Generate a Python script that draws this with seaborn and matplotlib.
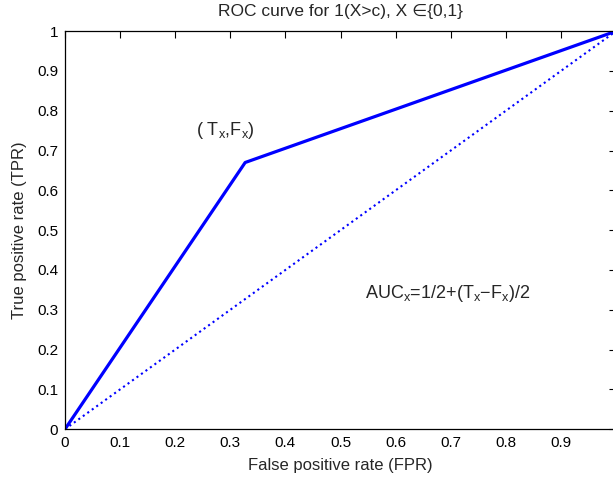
import matplotlib
matplotlib.use("Agg")
import matplotlib.pyplot as plt
import matplotlib.ticker as mticker
import numpy as np
import pandas as pd
import seaborn as sns

# ROC points
fpr = [0.0, 0.327, 1.0]
tpr = [0.0, 0.67, 1.0]
chance_x = [0.0, 1.0]
chance_y = [0.0, 1.0]
ticks = [0, 0.1, 0.2, 0.3, 0.4, 0.5, 0.6, 0.7, 0.8, 0.9, 1]

sns.set_style("white")
plt.rcParams['font.family'] = ['Liberation Sans', 'DejaVu Sans']
plt.rcParams['mathtext.fontset'] = 'custom'
plt.rcParams['mathtext.rm'] = 'Liberation Sans'
plt.rcParams['mathtext.it'] = 'Liberation Sans'

fig = plt.figure(figsize=(6.13, 4.79), dpi=100)
ax = fig.add_axes([0.106, 0.104, 0.899, 0.831])

roc = pd.DataFrame({'fpr': fpr, 'tpr': tpr})
chance = pd.DataFrame({'x': chance_x, 'y': chance_y})

sns.lineplot(data=chance, x='x', y='y', ax=ax, color='blue', linestyle=':',
             linewidth=1.5, sort=False)
sns.lineplot(data=roc, x='fpr', y='tpr', ax=ax, color='blue', linewidth=2.3,
             sort=False)

ax.set_xlim(0, 1)
ax.set_ylim(0, 1)
ax.set_xticks(ticks)
ax.set_yticks(ticks)
fmt = mticker.FormatStrFormatter('%g')
ax.xaxis.set_major_formatter(fmt)
ax.yaxis.set_major_formatter(fmt)
ax.tick_params(direction='in', top=True, right=True, length=5, width=0.8,
               labelsize=11, colors='black', pad=5)
for s in ax.spines.values():
    s.set_color('black')
    s.set_linewidth(0.9)

ax.set_xlabel('False positive rate (FPR)', fontsize=12, labelpad=6)
ax.set_ylabel('True positive rate (TPR)', fontsize=12, labelpad=7)
ax.set_title('ROC curve for 1(X>c), X \u2208{0,1}', fontsize=12.5, pad=11)

ax.text(0.237, 0.74, r'( T$_\mathregular{x}$,F$_\mathregular{x}$)', fontsize=13)
ax.text(0.545, 0.33,
        r'AUC$_\mathregular{x}$=1/2+(T$_\mathregular{x}$$-$F$_\mathregular{x}$)/2',
        fontsize=13)

fig.savefig('out.png', dpi=100)
